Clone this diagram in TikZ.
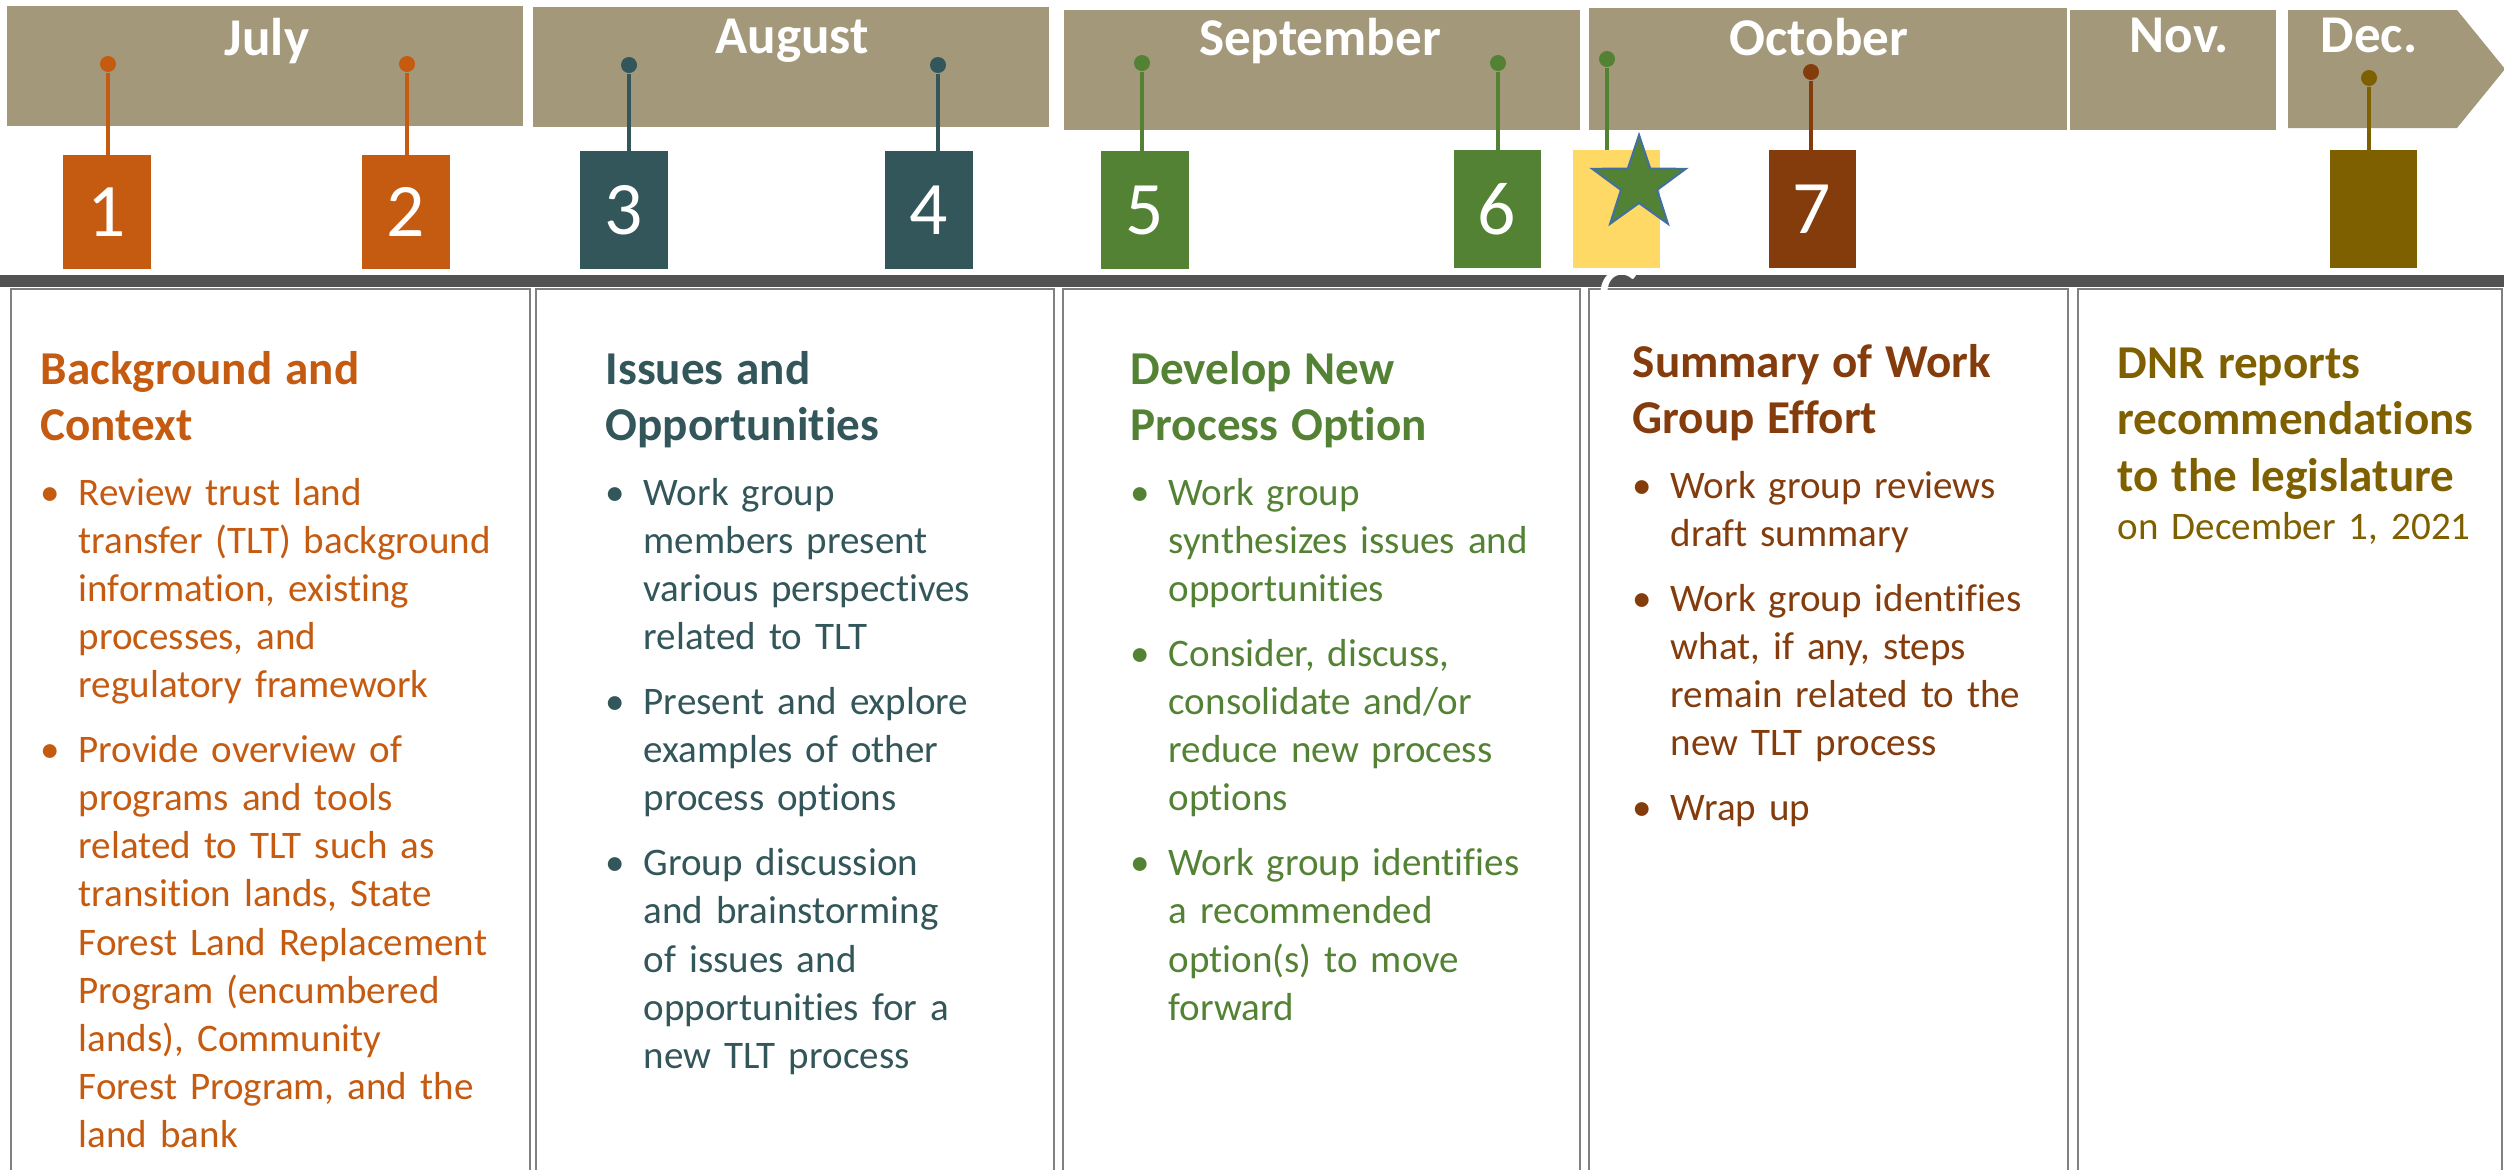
\documentclass[tikz,border=0pt]{standalone}
\usepackage{fontspec}
\setmainfont{Carlito}[Ligatures=NoCommon]

\definecolor{banner}{RGB}{163,152,122}
\definecolor{julyorange}{HTML}{C55A11}
\definecolor{augteal}{HTML}{325659}
\definecolor{sepgreen}{HTML}{548235}
\definecolor{octbrown}{HTML}{843C0C}
\definecolor{decgold}{HTML}{7F6000}
\definecolor{meetyellow}{HTML}{FFD966}
\definecolor{staredge}{HTML}{41719C}
\definecolor{bargray}{HTML}{525252}
\definecolor{colframe}{HTML}{808080}

\newcommand{\headfont}{\fontsize{13.4}{16.1}\selectfont\bfseries}
\newcommand{\nl}{\hfil\break}
\newcommand{\bul}[1]{\par\vspace{1.7mm}\hangindent=3.8mm\hangafter=1\noindent\makebox[3.8mm][l]{\textbullet}#1\par}

\begin{document}
\begin{tikzpicture}[x=0.01cm,y=-0.01cm,
	month/.style={fill=banner,inner sep=0},
	monthtext/.style={anchor=base,text=white,font=\fontsize{15.1}{18}\selectfont\bfseries},
	stepbox/.style={fill=#1,inner sep=0,minimum width=0.87cm,minimum height=1.17cm,
		text=white,font=\fontsize{21.5}{24}\selectfont},
	pin/.style={circle,fill=#1,inner sep=0,minimum size=0.16cm},
	pinline/.style={draw=#1,line width=1.2pt},
	colbox/.style={draw=colframe,line width=0.7pt},
	coltext/.style={anchor=base west,inner sep=0,text width=5cm,text=#1,
		font=\fontsize{11.1}{13.66}\selectfont}]
\useasboundingbox (0,0) rectangle (2504,1169);
\clip (0,0) rectangle (2504,1169);

% months
\node[month,minimum width=5.16cm,minimum height=1.2cm] (julbar) at (265,66) {};
\node[month,minimum width=5.15cm,minimum height=1.2cm] (augbar) at (791,67) {};
\node[month,minimum width=5.16cm,minimum height=1.19cm] (sepbar) at (1322,70) {};
\node[month,minimum width=4.77cm,minimum height=1.21cm] (octbar) at (1828,69) {};
\node[month,minimum width=2.06cm,minimum height=1.19cm] (novbar) at (2173,70) {};
\fill[banner] (2288,10) -- (2457,10) -- (2505,69) -- (2457,128) -- (2288,128) -- cycle;

\node[monthtext] (jul) at (267,55) {July};
\node[monthtext] (aug) at (792,53) {August};
\node[monthtext] (sep) at (1320,55) {September};
\node[monthtext] (oct) at (1819,55) {October};
\node[monthtext] (nov) at (2179,52) {Nov.};
\node[monthtext] (dec) at (2369,52) {Dec.};

% meetings
\node[stepbox=julyorange,minimum height=1.13cm] (s1) at (107,212) {1};
\node[stepbox=julyorange,minimum height=1.13cm] (s2) at (406,212) {2};
\node[stepbox=augteal] (s3) at (624,210) {3};
\node[stepbox=augteal] (s4) at (929,210) {4};
\node[stepbox=sepgreen] (s5) at (1145,210) {5};
\node[stepbox=sepgreen] (s6) at (1497,209) {6};
\node[stepbox=meetyellow] (smeet) at (1616,209) {};
\node[stepbox=octbrown] (s7) at (1812,209) {7};
\node[stepbox=decgold] (sdec) at (2373,209) {};

\node[pin=julyorange] (p1) at (108,64) {};
\node[pin=julyorange] (p2) at (407,64) {};
\node[pin=augteal] (p3) at (629,65) {};
\node[pin=augteal] (p4) at (938,65) {};
\node[pin=sepgreen] (p5) at (1142,63) {};
\node[pin=sepgreen] (p6) at (1498,63) {};
\node[pin=sepgreen] (pmeet) at (1607,59) {};
\node[pin=octbrown] (p7) at (1811,72) {};
\node[pin=decgold] (pdec) at (2369,78) {};

\draw[pinline=julyorange] (p1) -- (p1 |- s1.north);
\draw[pinline=julyorange] (p2) -- (p2 |- s2.north);
\draw[pinline=augteal] (p3) -- (p3 |- s3.north);
\draw[pinline=augteal] (p4) -- (p4 |- s4.north);
\draw[pinline=sepgreen] (p5) -- (p5 |- s5.north);
\draw[pinline=sepgreen] (p6) -- (p6 |- s6.north);
\draw[pinline=sepgreen] (pmeet) -- (pmeet |- smeet.north);
\draw[pinline=octbrown] (p7) -- (p7 |- s7.north);
\draw[pinline=decgold] (pdec) -- (pdec |- sdec.north);

\draw[fill=sepgreen,draw=staredge,line width=0.6pt] (1639,184)
	+(-90:49) -- +(-54:19) -- +(-18:49) -- +(18:19) -- +(54:49)
	-- +(90:19) -- +(126:49) -- +(162:19) -- +(198:49) -- +(234:19) -- cycle;

% columns
\fill[bargray] (0,275) rectangle (2504,287);
\draw[colbox] (11,289) rectangle (530,1250);
\draw[colbox] (536,289) rectangle (1054,1250);
\draw[colbox] (1063,289) rectangle (1580,1250);
\draw[colbox] (1589,289) rectangle (2068,1250);
\draw[colbox] (2078,289) rectangle (2502,1250);
\node[anchor=north west,inner sep=0,text=white,font=\fontsize{21.5}{24}\selectfont] (cfrag) at (1598,269) {C};

\node[coltext=julyorange] (txtjul) at (40,384) {{\headfont Background and\\Context\par}
	\bul{Review trust land\nl transfer (TLT) background\nl information, existing\nl processes, and\nl regulatory framework}
	\bul{Provide overview of\nl programs and tools\nl related to TLT such as\nl transition lands, State\nl Forest Land Replacement\nl Program (encumbered\nl lands), Community\nl Forest Program, and the\nl land bank}};
\node[coltext=augteal] (txtaug) at (605,384) {{\headfont Issues and\\Opportunities\par}
	\bul{Work group\nl members present\nl various perspectives\nl related to TLT}
	\bul{Present and explore\nl examples of other\nl process options}
	\bul{Group discussion\nl and brainstorming\nl of issues and\nl opportunities for a\nl new TLT process}};
\node[coltext=sepgreen] (txtsep) at (1130,384) {{\headfont Develop New\\Process Option\par}
	\bul{Work group\nl synthesizes issues and\nl opportunities}
	\bul{Consider, discuss,\nl consolidate and/or\nl reduce new process\nl options}
	\bul{Work group identifies\nl a recommended\nl option(s) to move\nl forward}};
\node[coltext=octbrown] (txtoct) at (1632,377) {{\headfont Summary of Work\\Group Effort\par}
	\bul{Work group reviews\nl draft summary}
	\bul{Work group identifies\nl what, if any, steps\nl remain related to the\nl new TLT process}
	\bul{Wrap up}};
\node[coltext=decgold] (txtdec) at (2117,378) {{\headfont DNR reports\\recommendations\\to the legislature\par}
	on December 1, 2021};
\end{tikzpicture}
\end{document}
